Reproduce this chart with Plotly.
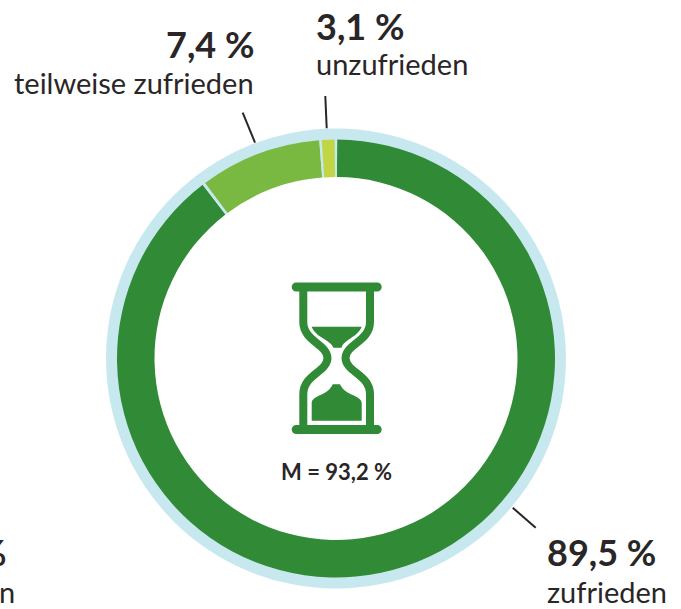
import plotly.graph_objects as go

W, H = 681, 609
FONT = "Lato"
INK = "#2a2627"
DARK, MID, LIME, SKY = "#318b36", "#7ab941", "#c1d545", "#c8e8f0"

# Printed percentages
categories = ["zufrieden", "teilweise zufrieden", "unzufrieden"]
printed = ["89,5 %", "7,4 %", "3,1 %"]
mean_label = "M = 93,2 %"

# Arc shares as drawn in the picture (the ring is not to scale), with separators
slice_names = ["zufrieden", "Trenner 1", "teilweise zufrieden", "Trenner 2", "unzufrieden", "Trenner 3"]
slice_shares = [89.5, 0.22, 8.98, 0.18, 0.95, 0.17]
slice_colors = [DARK, SKY, MID, SKY, LIME, SKY]

cx, cy = 336, 358.5
R_OUT, R_RING, R_IN = 230, 219, 181.5


def px(x):
    return x / W


def py(y):
    return 1 - y / H


def pth(s):
    """Turn a path given in page pixels into paper coordinates."""
    out = []
    for t in s.split():
        if t[0].isalpha():
            out.append(t)
        else:
            x, y = t.split(",")
            out.append(f"{px(float(x)):.5f},{py(float(y)):.5f}")
    return " ".join(out)


def dom(r):
    return dict(x=[px(cx - r), px(cx + r)], y=[py(cy + r), py(cy - r)])


def bar(x0, x1, yc, h):
    r = h / 2
    k = r * 0.55
    return (f"M {x0+r},{yc-r} L {x1-r},{yc-r} C {x1-r+k},{yc-r} {x1},{yc-k} {x1},{yc} "
            f"C {x1},{yc+k} {x1-r+k},{yc+r} {x1-r},{yc+r} L {x0+r},{yc+r} "
            f"C {x0+r-k},{yc+r} {x0},{yc+k} {x0},{yc} C {x0},{yc-k} {x0+r-k},{yc-r} {x0+r},{yc-r} Z")


fig = go.Figure()
fig.add_trace(go.Pie(values=[1], labels=["Rand"], hole=0.8, domain=dom(R_OUT), sort=False,
                     marker=dict(colors=[SKY], line=dict(width=0)), textinfo="none", hoverinfo="skip",
                     showlegend=False))
fig.add_trace(go.Pie(values=slice_shares, labels=slice_names, hole=R_IN / R_RING, domain=dom(R_RING),
                     sort=False, direction="clockwise", rotation=0.3,
                     marker=dict(colors=slice_colors, line=dict(width=0)), textinfo="none",
                     hoverinfo="label", showlegend=False))

shapes = []
# leader lines
for a, b in [((242.7, 112.7), (255, 142.7)), ((325.3, 96), (326.7, 128.3)), ((512.7, 507.7), (535.7, 527.7))]:
    shapes.append(dict(type="line", xref="paper", yref="paper", x0=px(a[0]), y0=py(a[1]), x1=px(b[0]), y1=py(b[1]),
                       line=dict(color=INK, width=2)))

# hourglass icon
icon_paths = [
    (bar(291.7, 381.7, 287, 9), DARK, 0),
    (bar(291.7, 381.7, 429.5, 9), DARK, 0),
    ("M 303.3,287 L 303.3,322 C 303.3,341 327,344 327.5,358 C 327,372 303.3,375 303.3,394 L 303.3,429.5", None, 8),
    ("M 370,287 L 370,322 C 370,341 346,344 345.5,358 C 346,372 370,375 370,394 L 370,429.5", None, 8),
    ("M 311.7,326.7 L 361.7,326.7 C 358,337 343,340 341.7,347.7 L 333.3,347.7 C 331,340 315,337 311.7,326.7 Z", DARK, 0),
    ("M 332.7,384.3 L 340,384.3 C 345,396 361.7,395 361.7,403.3 L 361.7,420.7 L 311.7,420.7 L 311.7,403.3 C 311.7,395 328,396 332.7,384.3 Z", DARK, 0),
]
for d, fill, w in icon_paths:
    s = dict(type="path", xref="paper", yref="paper", path=pth(d),
             line=dict(color=DARK, width=w) if w else dict(width=0))
    if fill:
        s["fillcolor"] = fill
    shapes.append(s)

anns = []


def label(text, x, y, size, bold, anchor):
    anns.append(dict(text=text, xref="paper", yref="paper", x=px(x), y=py(y), xanchor=anchor, yanchor="middle",
                     showarrow=False, borderpad=0, borderwidth=0,
                     font=dict(family=FONT, size=size, color=INK, weight=700 if bold else 400)))


label(printed[1], 254, 44, 36, True, "right")
label(categories[1], 254, 83, 29, False, "right")
label(printed[2], 316, 26, 36, True, "left")
label(categories[2], 316, 64, 29, False, "left")
label(printed[0], 547, 552, 36, True, "left")
label(categories[0], 547, 591, 29, False, "left")
label("%", 7, 552, 36, True, "right")
label("n", 15, 591, 29, False, "right")
label(mean_label, 336, 471, 22, True, "center")

fig.update_layout(width=W, height=H, margin=dict(l=0, r=0, t=0, b=0), paper_bgcolor="white", plot_bgcolor="white",
                  shapes=shapes, annotations=anns, showlegend=False)
fig.write_html("out.html", post_script="document.body.style.margin='0';", config=dict(displayModeBar=False))
